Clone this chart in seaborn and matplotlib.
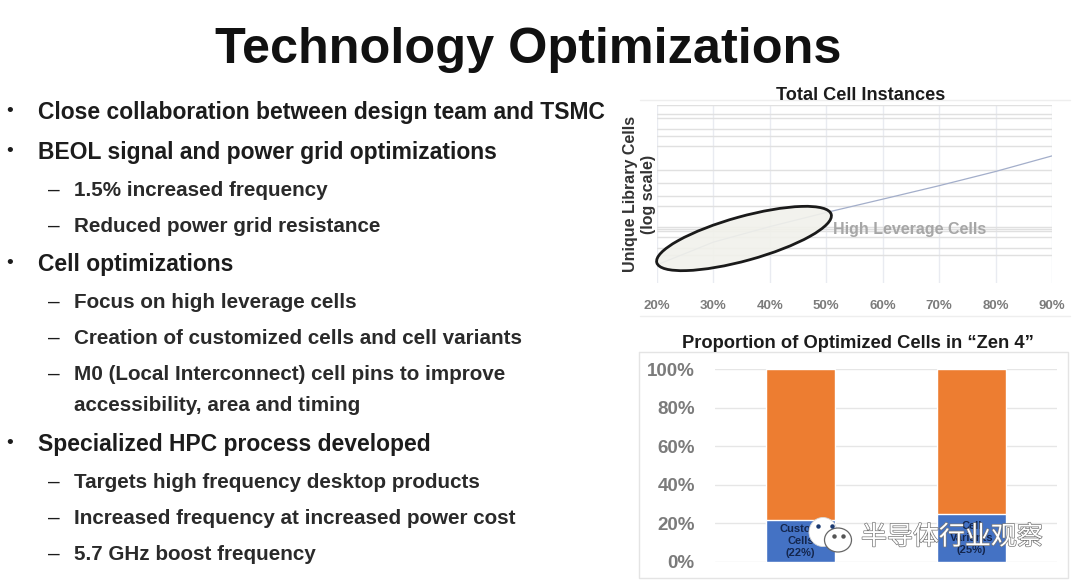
import matplotlib
matplotlib.use("Agg")
import matplotlib.pyplot as plt
from matplotlib.patches import Ellipse
import matplotlib.patheffects as pe
import pandas as pd
import seaborn as sns

# ---- data ----
title = "Technology Optimizations"
main_items = [
    "Close collaboration between design team and TSMC",
    "BEOL signal and power grid optimizations",
    "Cell optimizations",
    "Specialized HPC process developed",
]
sub_items = [
    "1.5% increased frequency",
    "Reduced power grid resistance",
    "Focus on high leverage cells",
    "Creation of customized cells and cell variants",
    "M0 (Local Interconnect) cell pins to improve",
    "Targets high frequency desktop products",
    "Increased frequency at increased power cost",
    "5.7 GHz boost frequency",
]
continuation = "accessibility, area and timing"
main_rows = [111, 151, 263, 443]
sub_rows = [189, 225, 301, 337, 373, 481, 517, 553]

cell_pct = [20, 30, 40, 50, 60, 70, 80, 90]
unique_cells = [16, 28.8, 43, 62, 87.5, 124, 179, 268]
log_grid = [20.8, 25, 33, 38, 40.7, 43, 74, 96, 132, 187, 347, 449, 533, 721, 786, 1000]

bar_cats = ["Custom Cells", "Cell Variants"]
optimized = [22, 25]
remainder = [78, 75]
bar_labels = ["Custom\nCells\n(22%)", "Cell\nVariants\n(25%)"]

# ---- figure ----
sns.set_theme(style="white")
plt.rcParams["font.family"] = ["Liberation Sans", "DejaVu Sans"]
W, H = 1080, 584
fig = plt.figure(figsize=(W / 100, H / 100), dpi=100, facecolor="white")


def axes_px(x0, y0, x1, y1, **kw):
    return fig.add_axes([x0 / W, 1 - y1 / H, (x1 - x0) / W, (y1 - y0) / H], **kw)


# ---- upper chart ----
ax1 = axes_px(657, 105, 1052, 283)
sns.lineplot(x=cell_pct, y=unique_cells, ax=ax1, color="#a3aeca", lw=0.9, zorder=3)
ax1.set_xlim(20, 90)
ax1.set_yscale("log")
ax1.set_ylim(10, 1000)
ax1.set_xticks(cell_pct)
ax1.set_xticklabels([f"{v}%" for v in cell_pct], fontsize=9.5, fontweight="bold", color="#7b7b7b")
ax1.set_yticks(log_grid)
ax1.set_yticks([], minor=True)
ax1.tick_params(axis="y", length=0, labelleft=False)
ax1.tick_params(axis="x", length=0, pad=12)
ax1.grid(True, axis="y", color="#e0e0e0", lw=1.0)
ax1.grid(True, axis="x", color="#e9ebf1", lw=1.0)
sns.despine(ax=ax1, left=True, bottom=True, top=True, right=True)

# ---- lower chart ----
ax2 = axes_px(715, 369, 1057, 562)
df_total = pd.DataFrame({"cat": bar_cats, "val": [a + b for a, b in zip(optimized, remainder)]})
df_low = pd.DataFrame({"cat": bar_cats, "val": optimized})
sns.barplot(data=df_total, x="cat", y="val", ax=ax2, color="#ed7d31", width=0.4, saturation=1, zorder=3)
sns.barplot(data=df_low, x="cat", y="val", ax=ax2, color="#4472c4", width=0.4, saturation=1, zorder=3)
ax2.set_xlim(-0.5, 1.5)
ax2.set_ylim(0, 100)
ax2.set_xlabel("")
ax2.set_ylabel("")
ax2.set_xticks([0, 1])
ax2.set_xticklabels([])
ax2.set_yticks([0, 20, 40, 60, 80, 100])
ax2.set_yticklabels(["0%", "20%", "40%", "60%", "80%", "100%"], fontsize=13.5,
                    fontweight="bold", color="#7b7b7b")
ax2.tick_params(length=0, pad=14.5)
ax2.grid(True, axis="y", color="#e6e6e6", lw=1.0, zorder=0)
ax2.set_axisbelow(True)
sns.despine(ax=ax2, left=True, bottom=True, top=True, right=True)
for i, (v, s) in enumerate(zip(optimized, bar_labels)):
    ax2.text(i, v / 2, s, ha="center", va="center", fontsize=8, fontweight="bold",
             color="#14264d", linespacing=1.26, zorder=4)

# ---- overlay in pixel coordinates ----
ov = fig.add_axes([0, 0, 1, 1], zorder=10)
ov.set_xlim(0, W)
ov.set_ylim(H, 0)
ov.axis("off")
ov.patch.set_alpha(0)
INK = "#1c1c1c"

ov.text(528, 50, title, ha="center", va="center", fontsize=36.3, fontweight="bold", color="#111111")
for row, s in zip(main_rows, main_items):
    ov.text(10, row + 1, "•", ha="center", va="center", fontsize=14, color=INK)
    ov.text(38, row + 1.5, s, ha="left", va="center", fontsize=16.5, fontweight="bold", color=INK)
for row, s in zip(sub_rows, sub_items):
    ov.text(54, row + 1, "–", ha="center", va="center", fontsize=15, color=INK)
    ov.text(74, row + 1.5, s, ha="left", va="center", fontsize=14.9, fontweight="bold", color="#2a2a2a")
ov.text(74, 405.5, continuation, ha="left", va="center", fontsize=14.9, fontweight="bold", color="#2a2a2a")

ov.text(860.5, 95, "Total Cell Instances", ha="center", va="center", fontsize=13.1, fontweight="bold", color=INK)
ov.text(858, 343, "Proportion of Optimized Cells in “Zen 4”", ha="center", va="center",
        fontsize=13.2, fontweight="bold", color=INK)
ov.text(630, 194, "Unique Library Cells", rotation=90, ha="center", va="center", fontsize=11.5,
        fontweight="bold", color="#333333")
ov.text(649, 194, "(log scale)", rotation=90, ha="center", va="center", fontsize=11.5,
        fontweight="bold", color="#333333")
ov.text(833, 229.5, "High Leverage Cells", ha="left", va="center", fontsize=11.5, fontweight="bold", color="#a6a6a6")

for y in (100, 316):
    ov.plot([640, 1070], [y, y], color="#eeeeee", lw=1)
ov.plot([639, 1068, 1068, 639, 639], [352, 352, 578, 578, 352], color="#e4e4e4", lw=1)

ov.add_patch(Ellipse((744, 238.5), 181, 44, angle=-15.5, facecolor=(0.945, 0.945, 0.92, 0.9),
                     edgecolor="#1a1a1a", lw=2))

# watermark
ov.add_patch(Ellipse((823, 532), 28, 29, facecolor="white", edgecolor="#d8d8d8", lw=0.6))
ov.add_patch(Ellipse((838, 540), 27, 24, facecolor="white", edgecolor="#666666", lw=0.9))
for cx, cy, c in [(818, 526, "#1c3a70"), (832, 526, "#1c3a70"), (834, 536, "#555555"), (843, 536, "#555555")]:
    ov.plot([cx], [cy], "o", ms=2.2, color=c)
ov.text(952, 537, "半导体行业观察", ha="center", va="center", fontsize=18.7, color="white",
        family=["Noto Sans CJK SC", "DejaVu Sans"],
        path_effects=[pe.withStroke(linewidth=1.0, foreground="#777777")])

fig.savefig("out.png", dpi=100, facecolor="white")
